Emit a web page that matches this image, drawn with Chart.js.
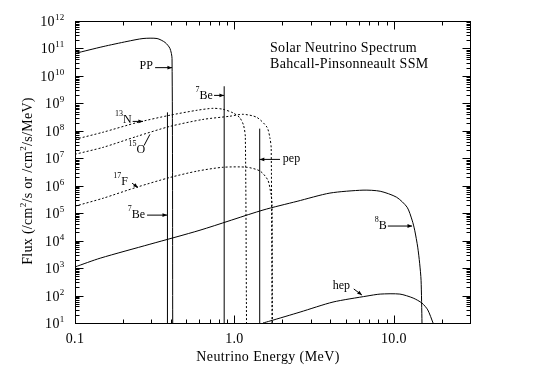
<!DOCTYPE html>
<html>
<head>
<meta charset="utf-8">
<script src="https://cdn.jsdelivr.net/npm/chart.js@4/dist/chart.umd.min.js"></script>
<style>
body { margin: 0; background: #fff; }
#wrap { width: 533px; height: 386px; position: relative; }
</style>
</head>
<body>
<div id="wrap"><canvas id="myChart"></canvas></div>
<script>
// energies in MeV, fluxes in /cm2/s/MeV (continuum) or /cm2/s (lines)
const ppEnergy = [0.1, 0.15, 0.212, 0.267, 0.327, 0.367, 0.394, 0.406, 0.41];
const ppFlux = [6.6e10, 1.17e11, 1.8e11, 2.3e11, 2.3e11, 1.66e11, 1.0e11, 4.3e10, 10];

const n13Energy = [0.1, 0.15, 0.245, 0.394, 0.582, 0.733, 0.847, 0.98, 1.08, 1.14, 1.17, 1.19];
const n13Flux = [4.9e7, 8.9e7, 2.0e8, 3.7e8, 5.6e8, 6.6e8, 6.1e8, 4.5e8, 3.0e8, 1.6e8, 6e7, 10];

const o15Energy = [0.1, 0.15, 0.245, 0.394, 0.635, 0.937, 1.13, 1.38, 1.60, 1.67, 1.70, 1.72];
const o15Flux = [1.4e7, 2.5e7, 6.3e7, 1.45e8, 2.6e8, 3.4e8, 4.0e8, 3.1e8, 1.35e8, 5.4e7, 2.3e7, 10];

const f17Energy = [0.1, 0.15, 0.245, 0.394, 0.582, 0.847, 1.20, 1.45, 1.62, 1.69, 1.72, 1.73];
const f17Flux = [1.8e5, 3.5e5, 8.9e5, 2.0e6, 3.4e6, 4.7e6, 4.7e6, 3.4e6, 1.6e6, 5.3e5, 2.3e5, 10];

const b8Energy = [0.1, 0.144, 0.295, 0.608, 1.51, 2.47, 3.97, 6.4, 8.2, 10.4, 12.1, 13.0, 13.5, 14.1, 14.5, 14.8, 15.0];
const b8Flux = [1.1e3, 2.3e3, 7.4e3, 2.4e4, 1.3e5, 2.7e5, 5.4e5, 6.9e5, 6.3e5, 3.8e5, 1.65e5, 5.6e4, 2.4e4, 5.8e3, 1.5e3, 3.6e2, 10];

const hepEnergy = [1.51, 1.67, 2.58, 4.15, 6.78, 8.2, 10.9, 13.2, 15.0, 16.3, 17.6];
const hepFlux = [10, 11.8, 25, 58, 96, 113, 113, 81, 53, 30, 10];

// monoenergetic lines: 7Be (two), pep
const lineNames = ['7Be 0.38', '7Be 0.86', 'pep'];
const lineEnergy = [0.38, 0.862, 1.44];
const lineFlux = [4.7e8, 4.2e9, 1.2e8];

const xTickValues = [0.1, 1, 10];
const xTickLabels = ['0.1', '1.0', '10.0'];
const yTickExponents = [1, 2, 3, 4, 5, 6, 7, 8, 9, 10, 11, 12];

const xMin = 0.1, xMax = 30, yMin = 10, yMax = 1e12;

// labels on the plot, placed in data coordinates (baseline of text)
const notes = [
    { text: 'PP', x: 0.308, y: 1.74e10, align: 'right', arrow: [0.318, 2.0e10, 0.406, 2.0e10] },
    { text: '^{7}Be', x: 0.733, y: 1.5e9, align: 'right', arrow: [0.745, 1.95e9, 0.86, 1.95e9] },
    { text: '^{13}N', x: 0.227, y: 1.86e8, align: 'right', arrow: [0.23, 2.2e8, 0.267, 2.2e8] },
    { text: '^{15}O', x: 0.275, y: 1.5e7, align: 'right', line: [0.271, 2.9e7, 0.295, 7.4e7] },
    { text: '^{17}F', x: 0.215, y: 1.05e6, align: 'right', arrow: [0.228, 1.24e6, 0.248, 8.6e5] },
    { text: '^{7}Be', x: 0.275, y: 6.6e4, align: 'right', arrow: [0.283, 8.5e4, 0.378, 8.5e4] },
    { text: 'pep', x: 2.01, y: 7.1e6, align: 'left', arrow: [1.93, 9.1e6, 1.44, 9.1e6] },
    { text: '^{8}B', x: 9.03, y: 2.6e4, align: 'right', arrow: [9.16, 3.4e4, 13.0, 3.4e4] },
    { text: 'hep', x: 5.3, y: 174, align: 'right', arrow: [5.6, 174, 6.3, 104] }
];

const serif = '"Liberation Serif", "Times New Roman", serif';

function pts(xs, ys) {
    return xs.map((x, i) => ({ x: x, y: ys[i] }));
}

function curve(label, xs, ys, dashed) {
    return {
        label: label,
        data: pts(xs, ys),
        showLine: true,
        borderColor: '#000',
        borderWidth: 1,
        borderDash: dashed ? [2, 2] : [],
        pointRadius: 0,
        tension: 0.25
    };
}

const datasets = [
    curve('pp', ppEnergy, ppFlux, false),
    curve('13N', n13Energy, n13Flux, true),
    curve('15O', o15Energy, o15Flux, true),
    curve('17F', f17Energy, f17Flux, true),
    curve('8B', b8Energy, b8Flux, false),
    curve('hep', hepEnergy, hepFlux, false)
];
lineEnergy.forEach((e, i) => {
    const d = curve(lineNames[i], [e, e], [yMin, lineFlux[i]], false);
    d.tension = 0;
    datasets.push(d);
});

// text with ^{...} superscripts
function richText(ctx, str, x, y, align, size, supSize, raise, spacing) {
    const parts = str.split(/\^\{([^}]*)\}/);
    ctx.letterSpacing = (spacing || 0) + 'px';
    let width = 0;
    parts.forEach((t, i) => {
        ctx.font = (i % 2 ? supSize : size) + 'px ' + serif;
        width += ctx.measureText(t).width;
    });
    let cx = align === 'right' ? x - width : (align === 'center' ? x - width / 2 : x);
    ctx.textAlign = 'left';
    ctx.textBaseline = 'alphabetic';
    parts.forEach((t, i) => {
        ctx.font = (i % 2 ? supSize : size) + 'px ' + serif;
        ctx.fillText(t, cx, i % 2 ? y - raise : y);
        cx += ctx.measureText(t).width;
    });
    ctx.letterSpacing = '0px';
}

function logTicks(min, max) {
    const out = [];
    for (let e = Math.floor(Math.log10(min)); e <= Math.ceil(Math.log10(max)); e++) {
        for (let m = 1; m <= 9; m++) {
            const v = m * Math.pow(10, e);
            if (v >= min * 0.999 && v <= max * 1.001) out.push({ v: v, major: m === 1 });
        }
    }
    return out;
}

function seg(ctx, x1, y1, x2, y2) {
    ctx.beginPath();
    ctx.moveTo(x1, y1);
    ctx.lineTo(x2, y2);
    ctx.stroke();
}

const decorations = {
    id: 'decorations',
    afterDraw(chart) {
        const ctx = chart.ctx;
        const a = chart.chartArea;
        const xs = chart.scales.x, ys = chart.scales.y;
        ctx.save();
        ctx.strokeStyle = '#000';
        ctx.fillStyle = '#000';
        ctx.lineWidth = 1;
        ctx.setLineDash([]);

        // frame
        const L = Math.round(a.left) + 0.5, R = Math.round(a.right) + 0.5;
        const T = Math.round(a.top) + 0.5, B = Math.round(a.bottom) + 0.5;
        ctx.strokeRect(L, T, R - L, B - T);

        // inward ticks on all four sides
        logTicks(xMin, xMax).forEach(t => {
            const p = Math.round(xs.getPixelForValue(t.v)) + 0.5;
            const len = t.major ? 8 : 4;
            seg(ctx, p, B, p, B - len);
            seg(ctx, p, T, p, T + len);
        });
        logTicks(yMin, yMax).forEach(t => {
            const p = Math.round(ys.getPixelForValue(t.v)) + 0.5;
            const len = t.major ? 8 : 4;
            seg(ctx, L, p, L + len, p);
            seg(ctx, R, p, R - len, p);
        });

        // tick labels
        xTickValues.forEach((v, i) => {
            richText(ctx, xTickLabels[i], xs.getPixelForValue(v), B + 19, 'center', 14, 9, 6, 0.3);
        });
        yTickExponents.forEach(e => {
            richText(ctx, '10^{' + e + '}', L - 11, ys.getPixelForValue(Math.pow(10, e)) + 5, 'right', 14, 9, 6, 0.3);
        });

        // axis titles
        richText(ctx, 'Neutrino Energy (MeV)', 268, 361, 'center', 14, 9, 6, 0.4);
        ctx.save();
        ctx.translate(32, 181);
        ctx.rotate(-Math.PI / 2);
        richText(ctx, 'Flux (/cm^{2}/s or /cm^{2}/s/MeV)', 0, 0, 'center', 14, 9, 6, 0.3);
        ctx.restore();

        // title block
        richText(ctx, 'Solar Neutrino Spectrum', 270, 52, 'left', 14, 9, 6, 0.3);
        richText(ctx, 'Bahcall-Pinsonneault SSM', 270, 68, 'left', 14, 9, 6, 0.3);

        // curve labels with arrows
        notes.forEach(n => {
            richText(ctx, n.text, xs.getPixelForValue(n.x), ys.getPixelForValue(n.y), n.align, 12, 8, 7, 0);
            const s = n.arrow || n.line;
            const x1 = xs.getPixelForValue(s[0]), y1 = ys.getPixelForValue(s[1]);
            const x2 = xs.getPixelForValue(s[2]), y2 = ys.getPixelForValue(s[3]);
            seg(ctx, x1, y1, x2, y2);
            if (n.arrow) {
                const ang = Math.atan2(y2 - y1, x2 - x1);
                ctx.beginPath();
                ctx.moveTo(x2, y2);
                ctx.lineTo(x2 - 5 * Math.cos(ang - 0.4), y2 - 5 * Math.sin(ang - 0.4));
                ctx.lineTo(x2 - 5 * Math.cos(ang + 0.4), y2 - 5 * Math.sin(ang + 0.4));
                ctx.closePath();
                ctx.fill();
            }
        });
        ctx.restore();
    }
};

let ctx = document.getElementById('myChart').getContext('2d');
var myChart = new Chart(ctx, {         //eslint-disable-line
    type: 'scatter',
    data: { datasets: datasets },
    options: {
        responsive: true,
        maintainAspectRatio: false,
        animation: false,
        events: [],
        layout: { padding: { left: 75, top: 21, right: 63, bottom: 63 } },
        plugins: {
            legend: { display: false },
            tooltip: { enabled: false }
        },
        scales: {
            x: { type: 'logarithmic', min: xMin, max: xMax, display: false },
            y: { type: 'logarithmic', min: yMin, max: yMax, display: false }
        }
    },
    plugins: [decorations]
});
</script>
</body>
</html>
